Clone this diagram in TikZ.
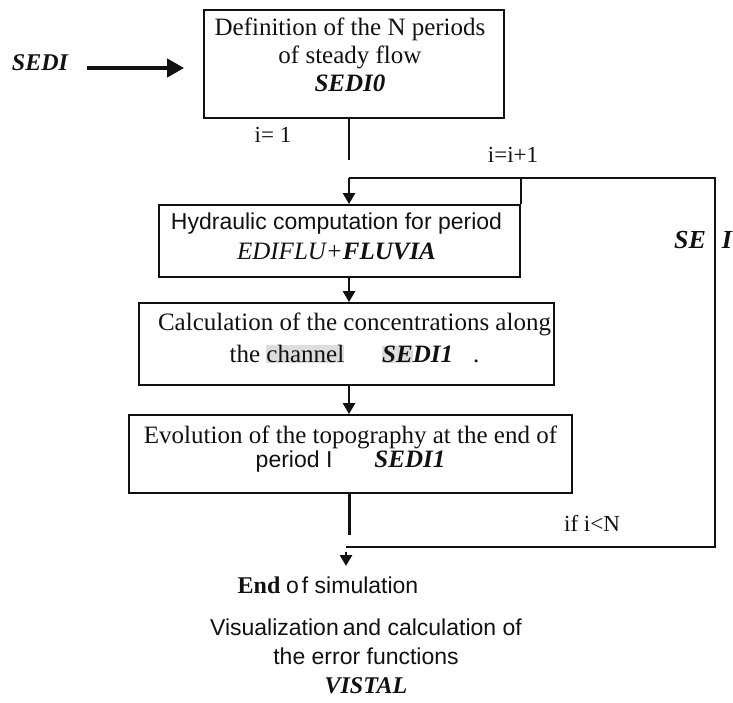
\documentclass[tikz,border=0pt]{standalone}
\usepackage{fontspec}
\setmainfont{Liberation Serif}
\setsansfont{Liberation Sans}
\usetikzlibrary{arrows.meta,positioning}
\definecolor{ink}{HTML}{111111}
\definecolor{scanshade}{HTML}{DDDDDD}
\tikzset{
  every node/.style={text=ink},
  stepbox/.style={draw=ink, line width=1.8pt, inner sep=0pt},
  boxtext/.style={align=center, inner sep=0pt,
    font=\fontsize{25}{30}\selectfont},
  tag/.style={inner sep=0pt, font=\fontsize{23}{27}\selectfont},
  entry/.style={-{Triangle[length=17pt,width=18pt]}, draw=ink,
    line width=4.5pt},
  flow/.style={-{Triangle[length=11pt,width=12pt]}, draw=ink,
    line width=2.6pt},
  loopline/.style={draw=ink, line width=2.4pt}
}
\newcommand{\prog}[1]{\textbf{\textit{#1}}}
\setlength{\fboxsep}{0pt}

\begin{document}
\begin{tikzpicture}[x=1pt,y=1pt]
\useasboundingbox (0,0) rectangle (733,-703);

% column of the main steps
\coordinate (spine) at (349,0);

\node[stepbox, minimum width=300pt, minimum height=108pt] (define) at (354,-64) {};
\node[boxtext, font=\fontsize{25}{28}\selectfont] (defineTxt)
  at ([xshift=-4pt,yshift=9pt]define.center)
  {Definition of the N periods\\of steady flow\\\prog{SEDI0}};

\node[stepbox, minimum width=361pt, minimum height=72pt] (hydro) at (339.5,-241) {};
\node[boxtext] (hydroTxt) at ([xshift=-3pt,yshift=5pt]hydro.center)
  {{\sffamily\fontsize{23}{27}\selectfont Hydraulic computation for period}\\
   \textit{EDIFLU+}\prog{FLUVIA}};

\node[stepbox, minimum width=415pt, minimum height=82pt] (conc) at (346.5,-344) {};
\node[boxtext, font=\fontsize{25}{32}\selectfont] (concTxt)
  at ([xshift=8pt,yshift=6pt]conc.center)
  {Calculation of the concentrations along\\
   the \colorbox{scanshade}{channel}\hspace{38pt}\colorbox{scanshade}{\prog{SE}}\prog{DI1}\hspace{20pt}.};

\node[stepbox, minimum width=443pt, minimum height=78pt] (topo) at (350.5,-454) {};
\node[boxtext, font=\fontsize{25}{24}\selectfont] (topoTxt)
  at ([yshift=5pt]topo.center)
  {Evolution of the topography at the end of\\
   {\sffamily\fontsize{23}{24}\selectfont period I}\hspace{42pt}\prog{SEDI1}};

% input of the chain
\node[tag, font=\fontsize{24}{28}\selectfont\bfseries\itshape] (sedi) at (40,-63) {SEDI};
\draw[entry, shorten <=19pt, shorten >=19pt]
  ([yshift=-5pt]sedi.east) -- ([yshift=-5pt]sedi.east -| define.west);

% loop over the periods
\coordinate (gap) at (349,-160);
\coordinate (split) at (349,-178);
\coordinate (topRight) at (715,-178);
\coordinate (botRight) at (715,-547);
\coordinate (join) at (346,-547);
\coordinate (stop) at (349,-535);
\coordinate (endTip) at (346,-566);

\draw[loopline, line width=2.8pt] (define.south -| gap) -- (gap);
\node[tag] (init) at (273,-135) {i= 1};
\node[tag] (incr) at (513,-155) {i=i+1};

\draw[flow] (split) -- (hydro.north -| split);
\draw[loopline] (hydro.north east |- split) -- (hydro.north east);
\draw[loopline] (join) -- (botRight) -- (topRight) -- (split);
\node[tag, font=\fontsize{26}{30}\selectfont\bfseries\itshape] (seA) at (690,-240) {SE};
\node[tag, font=\fontsize{26}{30}\selectfont\bfseries\itshape] (seB) at (727,-240) {I};
\node[tag] (test) at (592,-523) {if i<N};

\draw[flow] (hydro.south -| spine) -- (conc.north -| spine);
\draw[flow] (conc.south -| spine) -- (topo.north -| spine);
\draw[loopline, line width=3pt] (topo.south -| spine) -- (stop);
\draw[flow, shorten <=5pt] (join) -- (endTip);

% after the last period
\node[tag] (finish) at (328,-585)
  {{\bfseries\fontsize{24}{28}\selectfont End} {\sffamily o\kern3pt f simulation}};
\node[align=center, inner sep=0pt, font=\sffamily\fontsize{23}{29}\selectfont] (vistal)
  at (366,-656)
  {Visualization\kern4pt and calculation of\\the error functions\\
   {\rmfamily\fontsize{24}{29}\selectfont\prog{VISTAL}}};

\end{tikzpicture}
\end{document}
